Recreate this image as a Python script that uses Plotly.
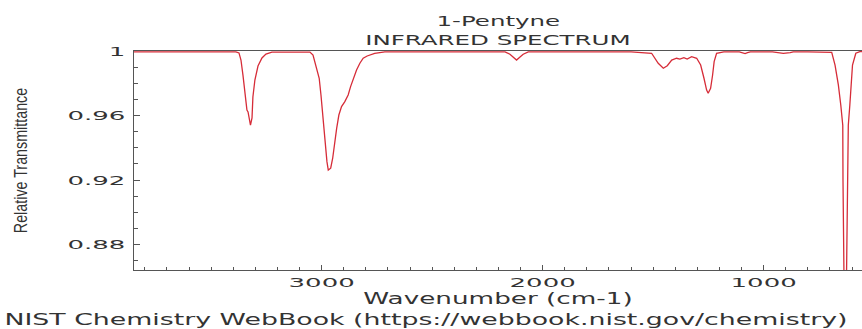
import plotly.graph_objects as go

# IR spectrum of 1-pentyne: wavenumber (cm-1) vs relative transmittance
wavenumber = [
    3850, 3600, 3400, 3388, 3374, 3365, 3356, 3347, 3338, 3333, 3329, 3322,
    3315, 3311, 3302, 3288, 3270, 3252, 3225, 3150, 3080, 3053, 3039, 3026,
    3011, 3003, 2997, 2991, 2984, 2976, 2970, 2959, 2950, 2943, 2932, 2922,
    2910, 2895, 2880, 2869, 2857, 2842, 2827, 2812, 2794, 2760, 2714, 2500,
    2170, 2148, 2130, 2118, 2105, 2088, 2065, 1800, 1600, 1507, 1477, 1454,
    1436, 1416, 1394, 1379, 1361, 1346, 1326, 1303, 1285, 1270, 1258, 1251,
    1240, 1231, 1224, 1213, 1180, 1110, 1095, 1084, 1073, 1060, 960, 941,
    911, 880, 866, 800, 720, 692, 677, 662, 651, 642, 641, 640, 639, 636,
    632, 629, 626, 624, 621, 617, 610, 605, 598, 583, 565, 550,
]
transmittance = [
    0.9995, 0.9995, 0.9995, 0.9995, 0.9988, 0.9944, 0.985, 0.9727, 0.9634, 0.9622, 0.9585, 0.954,
    0.9585, 0.9715, 0.982, 0.9907, 0.9957, 0.9981, 0.9993, 0.9995, 0.9995, 0.9993, 0.9975, 0.9913,
    0.9831, 0.9727, 0.9624, 0.952, 0.9417, 0.9314, 0.9262, 0.9273, 0.9335, 0.9417, 0.952, 0.9603,
    0.9655, 0.9686, 0.9727, 0.9779, 0.9831, 0.9882, 0.9924, 0.9955, 0.9969, 0.9985, 0.9994, 0.9995,
    0.9995, 0.998, 0.996, 0.9944, 0.996, 0.998, 0.9995, 0.9995, 0.9995, 0.9986, 0.9924, 0.9893,
    0.9909, 0.9944, 0.9955, 0.995, 0.9959, 0.995, 0.9965, 0.9955, 0.9913, 0.9831, 0.9758, 0.9738,
    0.9769, 0.9851, 0.9934, 0.9986, 0.9995, 0.9995, 0.999, 0.9984, 0.999, 0.9995, 0.9995, 0.999,
    0.9985, 0.999, 0.9995, 0.9995, 0.9995, 0.9992, 0.9913, 0.979, 0.9665, 0.954, 0.92, 0.88, 0.85, 0.82,
    0.80, 0.82, 0.85, 0.88, 0.92, 0.954, 0.9665, 0.979, 0.9913, 0.9986, 0.9996, 0.9996,
]

y_tick_values = [0.88, 0.92, 0.96, 1.0]
y_tick_labels = ["0.88", "0.92", "0.96", "1"]
x_tick_values = [3000, 2000, 1000]
x_tick_labels = ["3000", "2000", "1000"]

FONT = "DejaVu Sans"
INK = "#333333"
AXIS = "#555555"

fig = go.Figure(
    go.Scatter(
        x=wavenumber,
        y=transmittance,
        mode="lines",
        line=dict(color="#d62c38", width=1.3),
        hoverinfo="skip",
    )
)

fig.update_layout(
    width=862,
    height=329,
    margin=dict(l=134, r=0, t=51, b=59),
    paper_bgcolor="white",
    plot_bgcolor="white",
    showlegend=False,
    font=dict(family=FONT, color=INK, size=13),
)

fig.update_xaxes(
    range=[3849, 555],
    tickvals=x_tick_values,
    ticktext=x_tick_labels,
    ticks="inside",
    ticklen=5,
    tickcolor=AXIS,
    showline=True,
    linecolor=AXIS,
    linewidth=1.2,
    mirror=True,
    showgrid=False,
    zeroline=False,
    tickfont=dict(family=FONT, size=13, color=INK),
    minor=dict(dtick=100, tick0=0, ticks="inside", ticklen=3, tickcolor=AXIS, showgrid=False),
    title=dict(text="Wavenumber (cm-1)", font=dict(family=FONT, size=15, color=INK), standoff=2),
)

fig.update_yaxes(
    range=[0.8642, 1.0],
    tickvals=y_tick_values,
    ticktext=y_tick_labels,
    ticks="inside",
    ticklen=6,
    tickcolor=AXIS,
    showline=True,
    linecolor=AXIS,
    linewidth=1.2,
    showgrid=False,
    zeroline=False,
    ticklabelstandoff=5,
    tickfont=dict(family=FONT, size=13, color=INK),
    minor=dict(dtick=0.01, tick0=0, ticks="inside", ticklen=4, tickcolor=AXIS, showgrid=False),
    title=dict(text="Relative Transmittance",
               font=dict(family="Liberation Sans", size=14.3, color=INK), standoff=66),
)

fig.add_annotation(text="1-Pentyne", x=0.5, y=(270 - 21) / 219, xref="paper", yref="paper",
                   xanchor="center", yanchor="middle",
                   showarrow=False, font=dict(family=FONT, size=14, color=INK))
fig.add_annotation(text="INFRARED SPECTRUM", x=0.5, y=(270 - 40) / 219, xref="paper", yref="paper",
                   xanchor="center", yanchor="middle",
                   showarrow=False, font=dict(family=FONT, size=14, color=INK))
fig.add_annotation(text="NIST Chemistry WebBook (https://webbook.nist.gov/chemistry)",
                   x=(426 - 134) / 728, y=(270 - 320) / 219, xref="paper", yref="paper",
                   xanchor="center", yanchor="middle",
                   showarrow=False, font=dict(family=FONT, size=15.3, color=INK))

# The lettering is drawn extra wide: stretch every label horizontally about its
# anchor point (the rotated y title is widened across its glyph height instead).
widen_text = """
var gd = document.getElementById('{plot_id}');
var S = 1.75, STICK = 2.0, SY = 1.25;
gd.querySelectorAll('svg text').forEach(function (t) {
  if (!t.textContent) return;
  var b = t.getBBox();
  var old = t.getAttribute('transform') || '';
  var tr;
  if (t.classList.contains('ytitle')) {
    var cy = b.y + b.height / 2;
    tr = old + ' translate(0,' + cy + ') scale(1,' + SY + ') translate(0,' + (-cy) + ')';
  } else {
    var p = t.parentNode;
    var isTick = p && p.classList && (p.classList.contains('xtick') || p.classList.contains('ytick'));
    var s = isTick ? STICK : S;
    var a = t.getAttribute('text-anchor') || 'start';
    var px = a === 'end' ? b.x + b.width : (a === 'middle' ? b.x + b.width / 2 : b.x);
    tr = old + ' translate(' + px + ',0) scale(' + s + ',1) translate(' + (-px) + ',0)';
  }
  t.setAttribute('transform', tr);
});
"""

fig.write_html("out.html", post_script=widen_text)
